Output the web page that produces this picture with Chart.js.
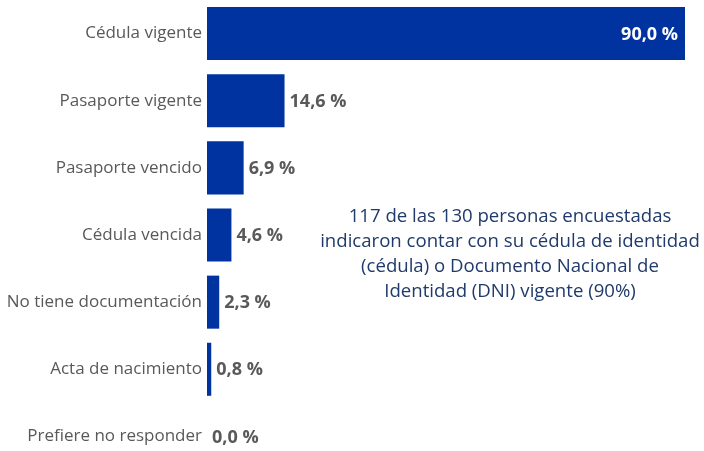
<!DOCTYPE html>
<html>
<head>
<meta charset="utf-8">
<script src="https://cdn.jsdelivr.net/npm/chart.js@4"></script>
<style>
  html, body { margin: 0; padding: 0; background: #fff; overflow: hidden; }
  #wrap { position: relative; width: 704px; height: 451px; overflow: hidden; }
  #box { position: absolute; left: 0; top: 0; width: 704px; height: 470px; }
  #note {
    position: absolute; left: 310px; width: 400px; top: 202px;
    font-family: "Open Sans", sans-serif; font-size: 18.6px; line-height: 25px;
    color: #1f3a6b; text-align: center;
  }
</style>
</head>
<body>
<div id="wrap">
  <div id="box"><canvas id="docChart"></canvas></div>
  <div id="note">117 de las 130 personas encuestadas<br>indicaron contar con su cédula de identidad<br>(cédula) o Documento Nacional de<br>Identidad (DNI) vigente (90%)</div>
</div>
<script>
const categories = [
    'Cédula vigente',
    'Pasaporte vigente',
    'Pasaporte vencido',
    'Cédula vencida',
    'No tiene documentación',
    'Acta de nacimiento',
    'Prefiere no responder'
];
const values = [90.0, 14.6, 6.9, 4.6, 2.3, 0.8, 0.0];

const valueLabels = {
    id: 'valueLabels',
    afterDatasetsDraw(chart) {
        const ctx = chart.ctx;
        const meta = chart.getDatasetMeta(0);
        ctx.save();
        ctx.font = 'bold 18px "Open Sans", sans-serif';
        ctx.textBaseline = 'middle';
        meta.data.forEach((bar, i) => {
            const txt = values[i].toFixed(1).replace('.', ',') + ' %';
            if (values[i] > 50) {
                ctx.fillStyle = '#ffffff';
                ctx.textAlign = 'right';
                ctx.fillText(txt, bar.x - 7, bar.y + 1);
            } else {
                ctx.fillStyle = '#595959';
                ctx.textAlign = 'left';
                ctx.fillText(txt, bar.x + 5, bar.y + 1);
            }
        });
        ctx.restore();
    }
};

const ctx = document.getElementById('docChart').getContext('2d');
const docChart = new Chart(ctx, {
    type: 'bar',
    data: {
        labels: categories,
        datasets: [{
            data: values,
            backgroundColor: '#0033a0',
            barPercentage: 0.79,
            categoryPercentage: 1.0
        }]
    },
    options: {
        indexAxis: 'y',
        responsive: true,
        maintainAspectRatio: false,
        animation: false,
        layout: { padding: { left: 0, right: 19, top: 0, bottom: 0 } },
        plugins: {
            legend: { display: false },
            tooltip: { enabled: false }
        },
        scales: {
            x: { display: false, min: 0, max: 90 },
            y: {
                grid: { display: false, drawTicks: false },
                border: { display: false },
                ticks: {
                    color: '#595959',
                    padding: 5,
                    font: { family: '"Open Sans", sans-serif', size: 17 }
                },
                afterFit(scale) {
                    scale.width = 207;
                    scale.paddingTop = 0;
                    scale.paddingBottom = 0;
                }
            }
        }
    },
    plugins: [valueLabels]
});
</script>
</body>
</html>
